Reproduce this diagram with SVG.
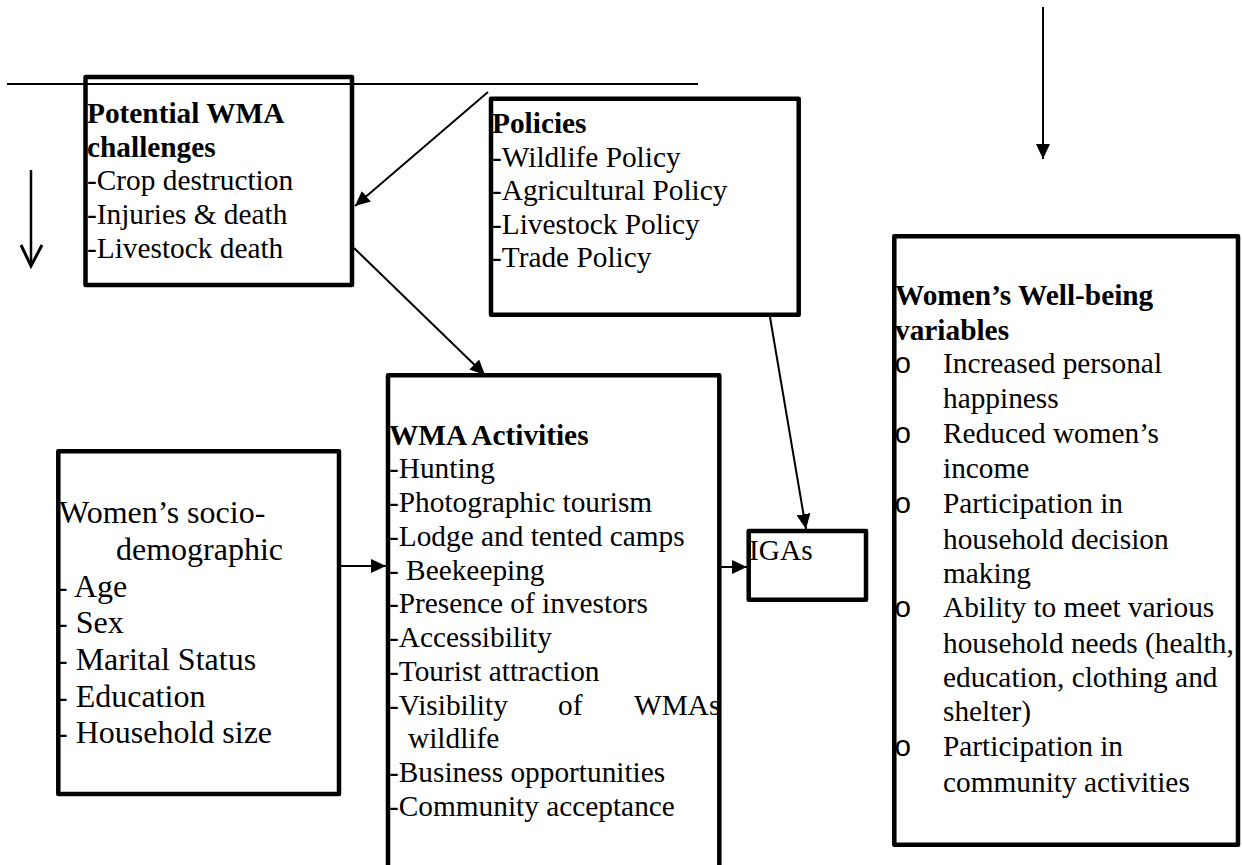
<svg xmlns="http://www.w3.org/2000/svg" width="1242" height="865" viewBox="0 0 1242 865">
<style>
.box{fill:none;stroke:#000;stroke-width:4.5;stroke-linejoin:round}
.ln{fill:none;stroke:#000;stroke-width:2}
.t{font-family:"Liberation Serif","Times New Roman",serif;font-size:29.33px;fill:#000}
.b{font-weight:bold}
.big{font-size:32px}
.o{font-family:"Liberation Mono","Courier New",monospace;font-size:29.33px;fill:#000}
</style>
<defs>
<marker id="ah" markerUnits="userSpaceOnUse" markerWidth="16" markerHeight="14" refX="15" refY="7" orient="auto" viewBox="0 0 16 14">
<path d="M0,0 L15,7 L0,14 z" fill="#000"/>
</marker>
</defs>
<rect width="1242" height="865" fill="#fff"/>
<g id="connectors">
<line class="ln" x1="7" y1="84" x2="698" y2="84"/>
<line class="ln" x1="488" y1="92" x2="355" y2="206" marker-end="url(#ah)"/>
<line class="ln" x1="354" y1="248" x2="485" y2="375" marker-end="url(#ah)"/>
<line class="ln" x1="770" y1="317" x2="806" y2="529" marker-end="url(#ah)"/>
<line class="ln" x1="341" y1="566" x2="386" y2="566" marker-end="url(#ah)"/>
<line class="ln" x1="721" y1="567" x2="747" y2="567" marker-end="url(#ah)"/>
<line class="ln" x1="1043" y1="7" x2="1043" y2="159" marker-end="url(#ah)"/>
<line x1="31" y1="170" x2="31" y2="265" stroke="#000" stroke-width="2.5"/>
<polyline points="21,245 31,266 42,245" fill="none" stroke="#000" stroke-width="3"/>
</g>
<g id="challenges">
<rect class="box" x="85.5" y="77" width="266.5" height="208"/>
<text class="t b" x="87" y="123">Potential WMA</text>
<text class="t b" x="87" y="157">challenges</text>
<text class="t" x="87" y="190">-Crop destruction</text>
<text class="t" x="87" y="224">-Injuries &amp; death</text>
<text class="t" x="87" y="258">-Livestock death</text>
</g>
<g id="policies">
<rect class="box" x="491" y="98.7" width="307.7" height="216"/>
<text class="t b" x="492" y="133">Policies</text>
<text class="t" x="492" y="167">-Wildlife Policy</text>
<text class="t" x="492" y="200">-Agricultural Policy</text>
<text class="t" x="492" y="234">-Livestock Policy</text>
<text class="t" x="492" y="267">-Trade Policy</text>
</g>
<g id="activities">
<path class="box" d="M388,870 V375.3 H719.3 V870"/>
<text class="t b" x="389" y="445">WMA Activities</text>
<text class="t" x="389" y="478">-Hunting</text>
<text class="t" x="389" y="512">-Photographic tourism</text>
<text class="t" x="389" y="546">-Lodge and tented camps</text>
<text class="t" x="389" y="580">- Beekeeping</text>
<text class="t" x="389" y="613">-Presence of investors</text>
<text class="t" x="389" y="647">-Accessibility</text>
<text class="t" x="389" y="681">-Tourist attraction</text>
<text class="t" x="389" y="715">-Visibility</text>
<text class="t" x="558" y="715">of</text>
<text class="t" x="634" y="715">WMAs</text>
<text class="t" x="408" y="748">wildlife</text>
<text class="t" x="389" y="782">-Business opportunities</text>
<text class="t" x="389" y="816">-Community acceptance</text>
</g>
<g id="igas">
<rect class="box" x="748.7" y="531" width="117.3" height="68.7"/>
<text class="t" x="749" y="560">IGAs</text>
</g>
<g id="sociodemographic">
<rect class="box" x="58.3" y="451.3" width="280.7" height="342.7"/>
<text class="t big" x="59" y="523">Women’s socio-</text>
<text class="t big" x="116" y="560">demographic</text>
<text class="t big" x="57" y="597">- Age</text>
<text class="t big" x="57" y="633">- Sex</text>
<text class="t big" x="57" y="670">- Marital Status</text>
<text class="t big" x="57" y="707">- Education</text>
<text class="t big" x="57" y="743">- Household size</text>
</g>
<g id="wellbeing">
<rect class="box" x="894.3" y="236.3" width="343.7" height="608.4"/>
<text class="t b" x="895" y="305">Women’s Well-being</text>
<text class="t b" x="895" y="340">variables</text>
<text class="o" x="894" y="373">o</text>
<text class="t" x="943" y="373">Increased personal</text>
<text class="t" x="943" y="408">happiness</text>
<text class="o" x="894" y="443">o</text>
<text class="t" x="943" y="443">Reduced women’s</text>
<text class="t" x="943" y="478">income</text>
<text class="o" x="894" y="513">o</text>
<text class="t" x="943" y="513">Participation in</text>
<text class="t" x="943" y="549">household decision</text>
<text class="t" x="943" y="583">making</text>
<text class="o" x="894" y="617">o</text>
<text class="t" x="943" y="617">Ability to meet various</text>
<text class="t" x="943" y="653">household needs (health,</text>
<text class="t" x="943" y="687">education, clothing and</text>
<text class="t" x="943" y="721">shelter)</text>
<text class="o" x="894" y="756">o</text>
<text class="t" x="943" y="756">Participation in</text>
<text class="t" x="943" y="792">community activities</text>
</g>
</svg>
